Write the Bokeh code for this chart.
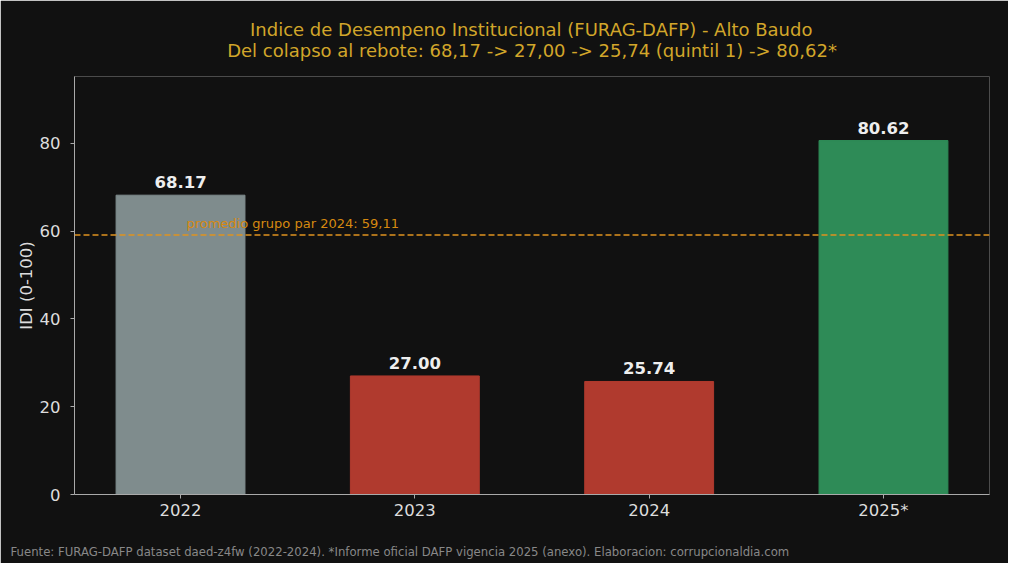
from bokeh.plotting import figure
from bokeh.models import Span, Label, Range1d, FixedTicker, ColumnDataSource, Title
from bokeh.embed import file_html
from bokeh.resources import INLINE
from bokeh.core.properties import value

# ---- data ----
years = ["2022", "2023", "2024", "2025*"]
idi = [68.17, 27.00, 25.74, 80.62]
value_labels = ["68.17", "27.00", "25.74", "80.62"]
bar_colors = ["#7f8c8d", "#b03a2e", "#b03a2e", "#2e8b57"]
par_avg = 59.11
par_label = "promedio grupo par 2024: 59,11"
title1 = "Indice de Desempeno Institucional (FURAG-DAFP) - Alto Baudo"
title2 = "Del colapso al rebote: 68,17 -> 27,00 -> 25,74 (quintil 1) -> 80,62*"
footer = ("Fuente: FURAG-DAFP dataset daed-z4fw (2022-2024). *Informe oficial DAFP "
          "vigencia 2025 (anexo). Elaboracion: corrupcionaldia.com")
y_label = "IDI (0-100)"

FONT = "DejaVu Sans"
BG = "#111111"
TITLE_COLOR = "#d2a62a"
NBSP = "\u00a0"

xs = list(range(len(years)))
src = ColumnDataSource(dict(x=xs, top=idi, color=bar_colors, lab=value_labels))

p = figure(width=1008, height=563, output_backend="svg", toolbar_location=None,
           x_range=Range1d(-0.4525, 3.4525), y_range=Range1d(0, 95.2),
           min_border_left=74, min_border_right=19, min_border_top=76,
           min_border_bottom=68)
p.background_fill_color = BG
p.border_fill_color = BG
p.outline_line_color = None
p.xgrid.visible = False
p.ygrid.visible = False

p.vbar(x="x", top="top", width=0.55, bottom=0, fill_color="color",
       line_color="color", source=src)

p.text(x="x", y="top", text="lab", source=src, text_align="center",
       text_baseline="bottom", y_offset=-7, text_color="#eeeeee",
       text_font=value(FONT), text_font_style="bold", text_font_size="16.5px")

p.add_layout(Span(location=par_avg, dimension="width", line_color="#e0931f",
                  line_dash="6 3", line_width=1.5))
p.add_layout(Label(x=0.025, y=par_avg + 1.0, text=par_label,
                   text_baseline="bottom", text_color="#d68910",
                   text_font=FONT, text_font_size="13px"))

# axes
for ax in (p.xaxis, p.yaxis):
    ax.axis_line_color = "#aaaaaa"
    ax.major_tick_line_color = "#aaaaaa"
    ax.major_tick_in = 0
    ax.major_tick_out = 4
    ax.minor_tick_line_color = None
    ax.major_label_text_color = "#dddddd"
    ax.major_label_text_font = FONT
    ax.major_label_text_font_size = "16.5px"

p.xaxis.major_label_standoff = 2
p.yaxis.major_label_standoff = 10
p.xaxis.ticker = FixedTicker(ticks=xs)
p.xaxis.major_label_overrides = {i: y for i, y in zip(xs, years)}
p.yaxis.ticker = FixedTicker(ticks=[0, 20, 40, 60, 80])
p.yaxis.axis_label = y_label
p.yaxis.axis_label_text_color = "#dddddd"
p.yaxis.axis_label_text_font = FONT
p.yaxis.axis_label_text_font_style = "normal"
p.yaxis.axis_label_text_font_size = "16.5px"
p.yaxis.axis_label_standoff = 1

# two-line title (first line padded so both lines are centred)
p.add_layout(Title(text=NBSP * 4 + title1 + "\n" + title2, align="center",
                   text_color=TITLE_COLOR, text_font=FONT, text_font_style="normal",
                   text_line_height=1.04, text_font_size="18px", standoff=30), "above")
# footer (leading empty line pushes the text down towards the canvas edge)
p.add_layout(Title(text=" \n" + footer, align="left", text_color="#888888",
                   text_font=FONT, text_font_style="normal", text_line_height=1.2,
                   text_font_size="11.7px", standoff=8, offset=-64), "below")

open("out.html", "w").write(file_html(p, INLINE))
